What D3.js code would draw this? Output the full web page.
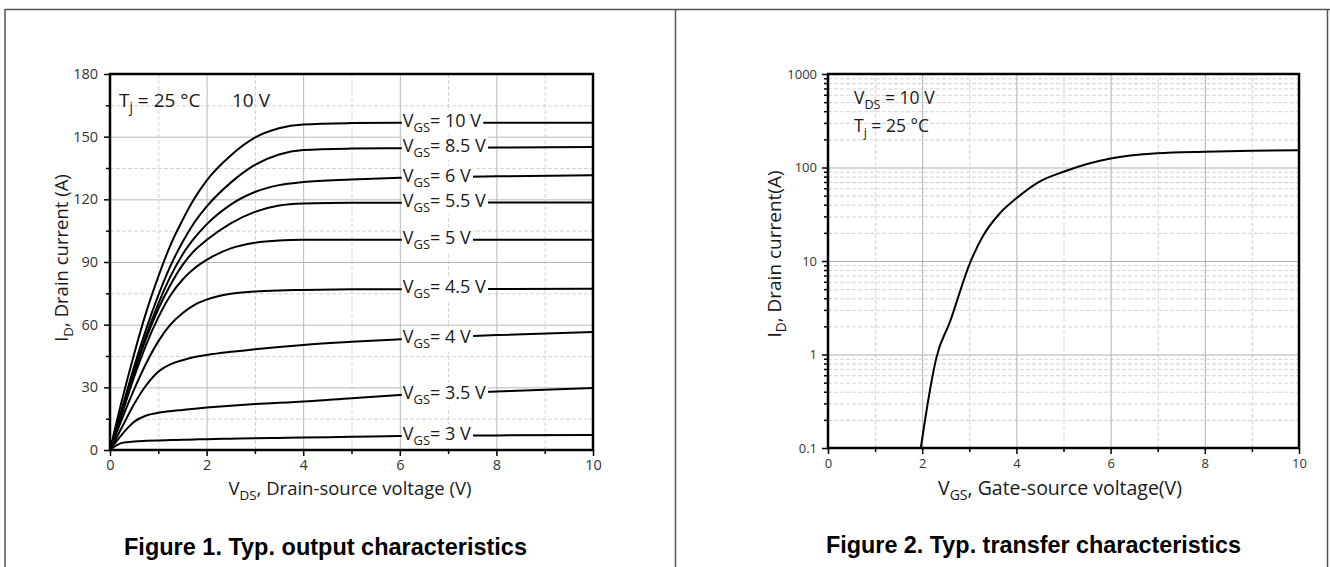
<!DOCTYPE html>
<html>
<head>
<meta charset="utf-8">
<script src="https://cdn.jsdelivr.net/npm/d3@7"></script>
<style>
body { margin: 0; background: #fff; }
svg text { font-family: "Open Sans", sans-serif; fill: #1a1a1a; }
.caption { font-family: "Liberation Sans", Arial, sans-serif; font-weight: bold; font-size: 24px; }
svg text.caption { fill: #000; }
</style>
</head>
<body>
<svg id="chart" width="1330" height="567"></svg>
<script>
// Figure 1: I_D (A) vs V_DS (V), one curve per V_GS
var vds = [0, 0.25, 0.5, 0.75, 1, 1.25, 1.5, 1.75, 2, 2.5, 3, 3.5, 4, 5, 6, 8, 10];
var vgsLabels = ["10", "8.5", "6", "5.5", "5", "4.5", "4", "3.5", "3"];
var id10 = [0, 24, 46, 66, 83, 98, 110, 120.5, 129, 141, 149.5, 154, 155.8, 156.5, 156.7, 156.7, 156.7];
var id85 = [0, 20, 40, 58, 74, 88, 99.5, 109, 116.5, 128, 136.5, 141.5, 143.6, 144.3, 144.5, 144.8, 145];
var id6  = [0, 19, 38, 55, 70, 83, 93.5, 101.5, 108, 117.5, 123.5, 126.8, 128.3, 129.5, 130.3, 131, 131.6];
var id55 = [0, 18.5, 37, 53.5, 67.5, 79, 88.5, 95.5, 100.5, 108.5, 114, 117, 118, 118.4, 118.4, 118.5, 118.5];
var id5  = [0, 17.5, 35, 50.5, 63.5, 74, 81.5, 87, 91, 96.5, 99.2, 100.3, 100.6, 100.7, 100.7, 100.7, 100.7];
var id45 = [0, 15, 29, 41.5, 52, 60, 65.5, 69.5, 72, 74.8, 75.9, 76.4, 76.6, 76.9, 77, 77.1, 77.2];
var id4  = [0, 11, 22, 31, 37.5, 41, 43, 44.5, 45.5, 47, 48.2, 49.3, 50.3, 51.8, 53, 55, 56.5];
var id35 = [0, 7.5, 13.5, 16.5, 17.8, 18.6, 19.2, 19.8, 20.3, 21.2, 22, 22.6, 23.2, 24.8, 26.3, 28, 29.7];
var id3  = [0, 3.4, 4.1, 4.4, 4.6, 4.75, 4.9, 5.05, 5.2, 5.4, 5.6, 5.8, 6.0, 6.3, 6.7, 7.0, 7.2];
var outTicksX = [0, 2, 4, 6, 8, 10];
var outTicksY = [0, 30, 60, 90, 120, 150, 180];

// Figure 2: I_D (A) vs V_GS (V), log scale
var vgs = [1.97, 2.19, 2.3, 2.59, 3.01, 3.29, 3.65, 4.0, 4.5, 5.0, 5.5, 6.0, 7.0, 8.0, 9.0, 10.0];
var idT = [0.1, 0.49, 0.92, 2.24, 9.4, 18.5, 32.4, 46.8, 71, 90, 109, 125, 142, 147.6, 151, 153];
var trTicksX = [0, 2, 4, 6, 8, 10];
var trTicksY = [0.1, 1, 10, 100, 1000];

var curves = [id10, id85, id6, id55, id5, id45, id4, id35, id3];
var labelAt = vds.indexOf(6);

var svg = d3.select("#chart");

// page frame
svg.append("path")
    .attr("d", "M5,567 V9.5 H1330 M675.5,9.5 V567 M1327.5,9.5 V567")
    .attr("fill", "none")
    .attr("stroke", "#555")
    .attr("stroke-width", 1.5);

function subText(sel, parts) {
    // parts: [text, isSub]
    var dy = 0;
    parts.forEach(function(p) {
        var t = sel.append("tspan").text(p[0]);
        if (p[1]) { t.attr("dy", 5 - dy).attr("font-size", "0.72em"); dy = 5; }
        else if (dy) { t.attr("dy", -dy); dy = 0; }
    });
    return sel;
}

function gridStyle(dashed, color) {
    return function(g) {
        g.select(".domain").remove();
        g.selectAll("line").attr("stroke", color).attr("stroke-dasharray", dashed ? "4,2" : null);
    };
}
function tickStyle(size) {
    return function(g) {
        g.select(".domain").remove();
        g.selectAll("line").attr("stroke-width", 1.5);
        g.selectAll("text").style("font-size", size + "px").style("fill", "#333");
    };
}

// ---------- Figure 1 ----------
var L = {left: 110, right: 593, top: 74, bottom: 450};
var x1 = d3.scaleLinear().domain([0, 10]).range([L.left, L.right]);
var y1 = d3.scaleLinear().domain([0, 180]).range([L.bottom, L.top]);
var g1 = svg.append("g");

g1.append("g")
    .attr("transform", "translate(0," + L.bottom + ")")
    .call(d3.axisBottom(x1).tickValues([1, 3, 5, 7, 9]).tickSize(-(L.bottom - L.top)).tickFormat(""))
    .call(gridStyle(true, "#d4d4d4"));
g1.append("g")
    .attr("transform", "translate(" + L.left + ",0)")
    .call(d3.axisLeft(y1).tickValues([15, 45, 75, 105, 135, 165]).tickSize(-(L.right - L.left)).tickFormat(""))
    .call(gridStyle(true, "#d4d4d4"));
g1.append("g")
    .attr("transform", "translate(0," + L.bottom + ")")
    .call(d3.axisBottom(x1).tickValues([2, 4, 6, 8]).tickSize(-(L.bottom - L.top)).tickFormat(""))
    .call(gridStyle(false, "#b8b8b8"));
g1.append("g")
    .attr("transform", "translate(" + L.left + ",0)")
    .call(d3.axisLeft(y1).tickValues([30, 60, 90, 120, 150]).tickSize(-(L.right - L.left)).tickFormat(""))
    .call(gridStyle(false, "#b8b8b8"));

var line1 = d3.line()
    .x(function(d, i) { return x1(vds[i]); })
    .y(function(d) { return y1(d); })
    .curve(d3.curveMonotoneX);

curves.forEach(function(c) {
    g1.append("path")
        .attr("d", line1(c))
        .attr("fill", "none")
        .attr("stroke", "#000")
        .attr("stroke-width", 2);
});

curves.forEach(function(c, i) {
    var t = g1.append("text")
        .attr("x", x1(6) + 3)
        .attr("y", y1(c[labelAt]) + 4)
        .attr("font-size", 18);
    subText(t, [["V"], ["GS", true], ["= " + vgsLabels[i] + " V"]]);
    var b = t.node().getBBox();
    g1.insert("rect", function() { return t.node(); })
        .attr("x", b.x - 1).attr("y", b.y + 3)
        .attr("width", b.width + 3).attr("height", b.height - 4)
        .attr("fill", "#fff");
});

// axes and frame
g1.append("g")
    .attr("transform", "translate(0," + L.bottom + ")")
    .call(d3.axisBottom(x1).tickValues([1, 3, 5, 7, 9]).tickSize(4).tickFormat(""))
    .call(tickStyle(14.5));
g1.append("g")
    .attr("transform", "translate(0," + L.bottom + ")")
    .call(d3.axisBottom(x1).tickValues(outTicksX).tickSize(6).tickPadding(4).tickFormat(d3.format("d")))
    .call(tickStyle(14.5));
g1.append("g")
    .attr("transform", "translate(" + L.left + ",0)")
    .call(d3.axisLeft(y1).tickValues([15, 45, 75, 105, 135, 165]).tickSize(4).tickFormat(""))
    .call(tickStyle(14.5));
g1.append("g")
    .attr("transform", "translate(" + L.left + ",0)")
    .call(d3.axisLeft(y1).tickValues(outTicksY).tickSize(6).tickPadding(6).tickFormat(d3.format("d")))
    .call(tickStyle(14.5));
g1.append("rect")
    .attr("x", L.left).attr("y", L.top)
    .attr("width", L.right - L.left).attr("height", L.bottom - L.top)
    .attr("fill", "none").attr("stroke", "#000").attr("stroke-width", 2.5);

subText(g1.append("text").attr("x", 119).attr("y", 107).attr("font-size", 19),
    [["T"], ["j", true], [" = 25 °C"]]);
g1.append("text").attr("x", 232).attr("y", 107).attr("font-size", 19).text("10 V");

subText(g1.append("text").attr("x", 350).attr("y", 495)
    .attr("text-anchor", "middle").attr("font-size", 18.5),
    [["V"], ["DS", true], [", Drain-source voltage (V)"]]);
subText(g1.append("text").attr("transform", "translate(68,258) rotate(-90)")
    .attr("text-anchor", "middle").attr("font-size", 18.5),
    [["I"], ["D", true], [", Drain current (A)"]]);

g1.append("text").attr("class", "caption")
    .attr("x", 124).attr("y", 555)
    .attr("textLength", 403).attr("lengthAdjust", "spacingAndGlyphs")
    .text("Figure 1. Typ. output characteristics");

// ---------- Figure 2 ----------
var R = {left: 828, right: 1299, top: 74, bottom: 448};
var x2 = d3.scaleLinear().domain([0, 10]).range([R.left, R.right]);
var y2 = d3.scaleLog().domain([0.1, 1000]).range([R.bottom, R.top]);
var g2 = svg.append("g");

var minorY = [];
[0.1, 1, 10, 100].forEach(function(dec) {
    for (var k = 2; k <= 9; k++) minorY.push(dec * k);
});

g2.append("g")
    .attr("transform", "translate(0," + R.bottom + ")")
    .call(d3.axisBottom(x2).tickValues([1, 3, 5, 7, 9]).tickSize(-(R.bottom - R.top)).tickFormat(""))
    .call(gridStyle(true, "#d4d4d4"));
g2.append("g")
    .attr("transform", "translate(" + R.left + ",0)")
    .call(d3.axisLeft(y2).tickValues(minorY).tickSize(-(R.right - R.left)).tickFormat(""))
    .call(gridStyle(true, "#d4d4d4"));
g2.append("g")
    .attr("transform", "translate(0," + R.bottom + ")")
    .call(d3.axisBottom(x2).tickValues([2, 4, 6, 8]).tickSize(-(R.bottom - R.top)).tickFormat(""))
    .call(gridStyle(false, "#b0b0b0"));
g2.append("g")
    .attr("transform", "translate(" + R.left + ",0)")
    .call(d3.axisLeft(y2).tickValues([1, 10, 100]).tickSize(-(R.right - R.left)).tickFormat(""))
    .call(gridStyle(false, "#b0b0b0"));

var line2 = d3.line()
    .x(function(d, i) { return x2(vgs[i]); })
    .y(function(d) { return y2(d); })
    .curve(d3.curveMonotoneX);

g2.append("path")
    .attr("d", line2(idT))
    .attr("fill", "none")
    .attr("stroke", "#000")
    .attr("stroke-width", 2);

g2.append("g")
    .attr("transform", "translate(0," + R.bottom + ")")
    .call(d3.axisBottom(x2).tickValues([1, 3, 5, 7, 9]).tickSize(4).tickFormat(""))
    .call(tickStyle(13));
g2.append("g")
    .attr("transform", "translate(0," + R.bottom + ")")
    .call(d3.axisBottom(x2).tickValues(trTicksX).tickSize(6).tickPadding(5).tickFormat(d3.format("d")))
    .call(tickStyle(13));
g2.append("g")
    .attr("transform", "translate(" + R.left + ",0)")
    .call(d3.axisLeft(y2).tickValues(minorY).tickSize(4).tickFormat(""))
    .call(tickStyle(13));
g2.append("g")
    .attr("transform", "translate(" + R.left + ",0)")
    .call(d3.axisLeft(y2).tickValues(trTicksY).tickSize(6).tickPadding(5).tickFormat(function(d) { return String(d); }))
    .call(tickStyle(13));
g2.append("rect")
    .attr("x", R.left).attr("y", R.top)
    .attr("width", R.right - R.left).attr("height", R.bottom - R.top)
    .attr("fill", "none").attr("stroke", "#000").attr("stroke-width", 2.5);

subText(g2.append("text").attr("x", 854).attr("y", 104).attr("font-size", 17.5),
    [["V"], ["DS", true], [" = 10 V"]]);
subText(g2.append("text").attr("x", 854).attr("y", 132).attr("font-size", 17.5),
    [["T"], ["j", true], [" = 25 °C"]]);

subText(g2.append("text").attr("x", 1060).attr("y", 495)
    .attr("text-anchor", "middle").attr("font-size", 19.5),
    [["V"], ["GS", true], [", Gate-source voltage(V)"]]);
subText(g2.append("text").attr("transform", "translate(781,254) rotate(-90)")
    .attr("text-anchor", "middle").attr("font-size", 19),
    [["I"], ["D", true], [", Drain current(A)"]]);

g2.append("text").attr("class", "caption")
    .attr("x", 826).attr("y", 553)
    .attr("textLength", 415).attr("lengthAdjust", "spacingAndGlyphs")
    .text("Figure 2. Typ. transfer characteristics");
</script>
</body>
</html>
